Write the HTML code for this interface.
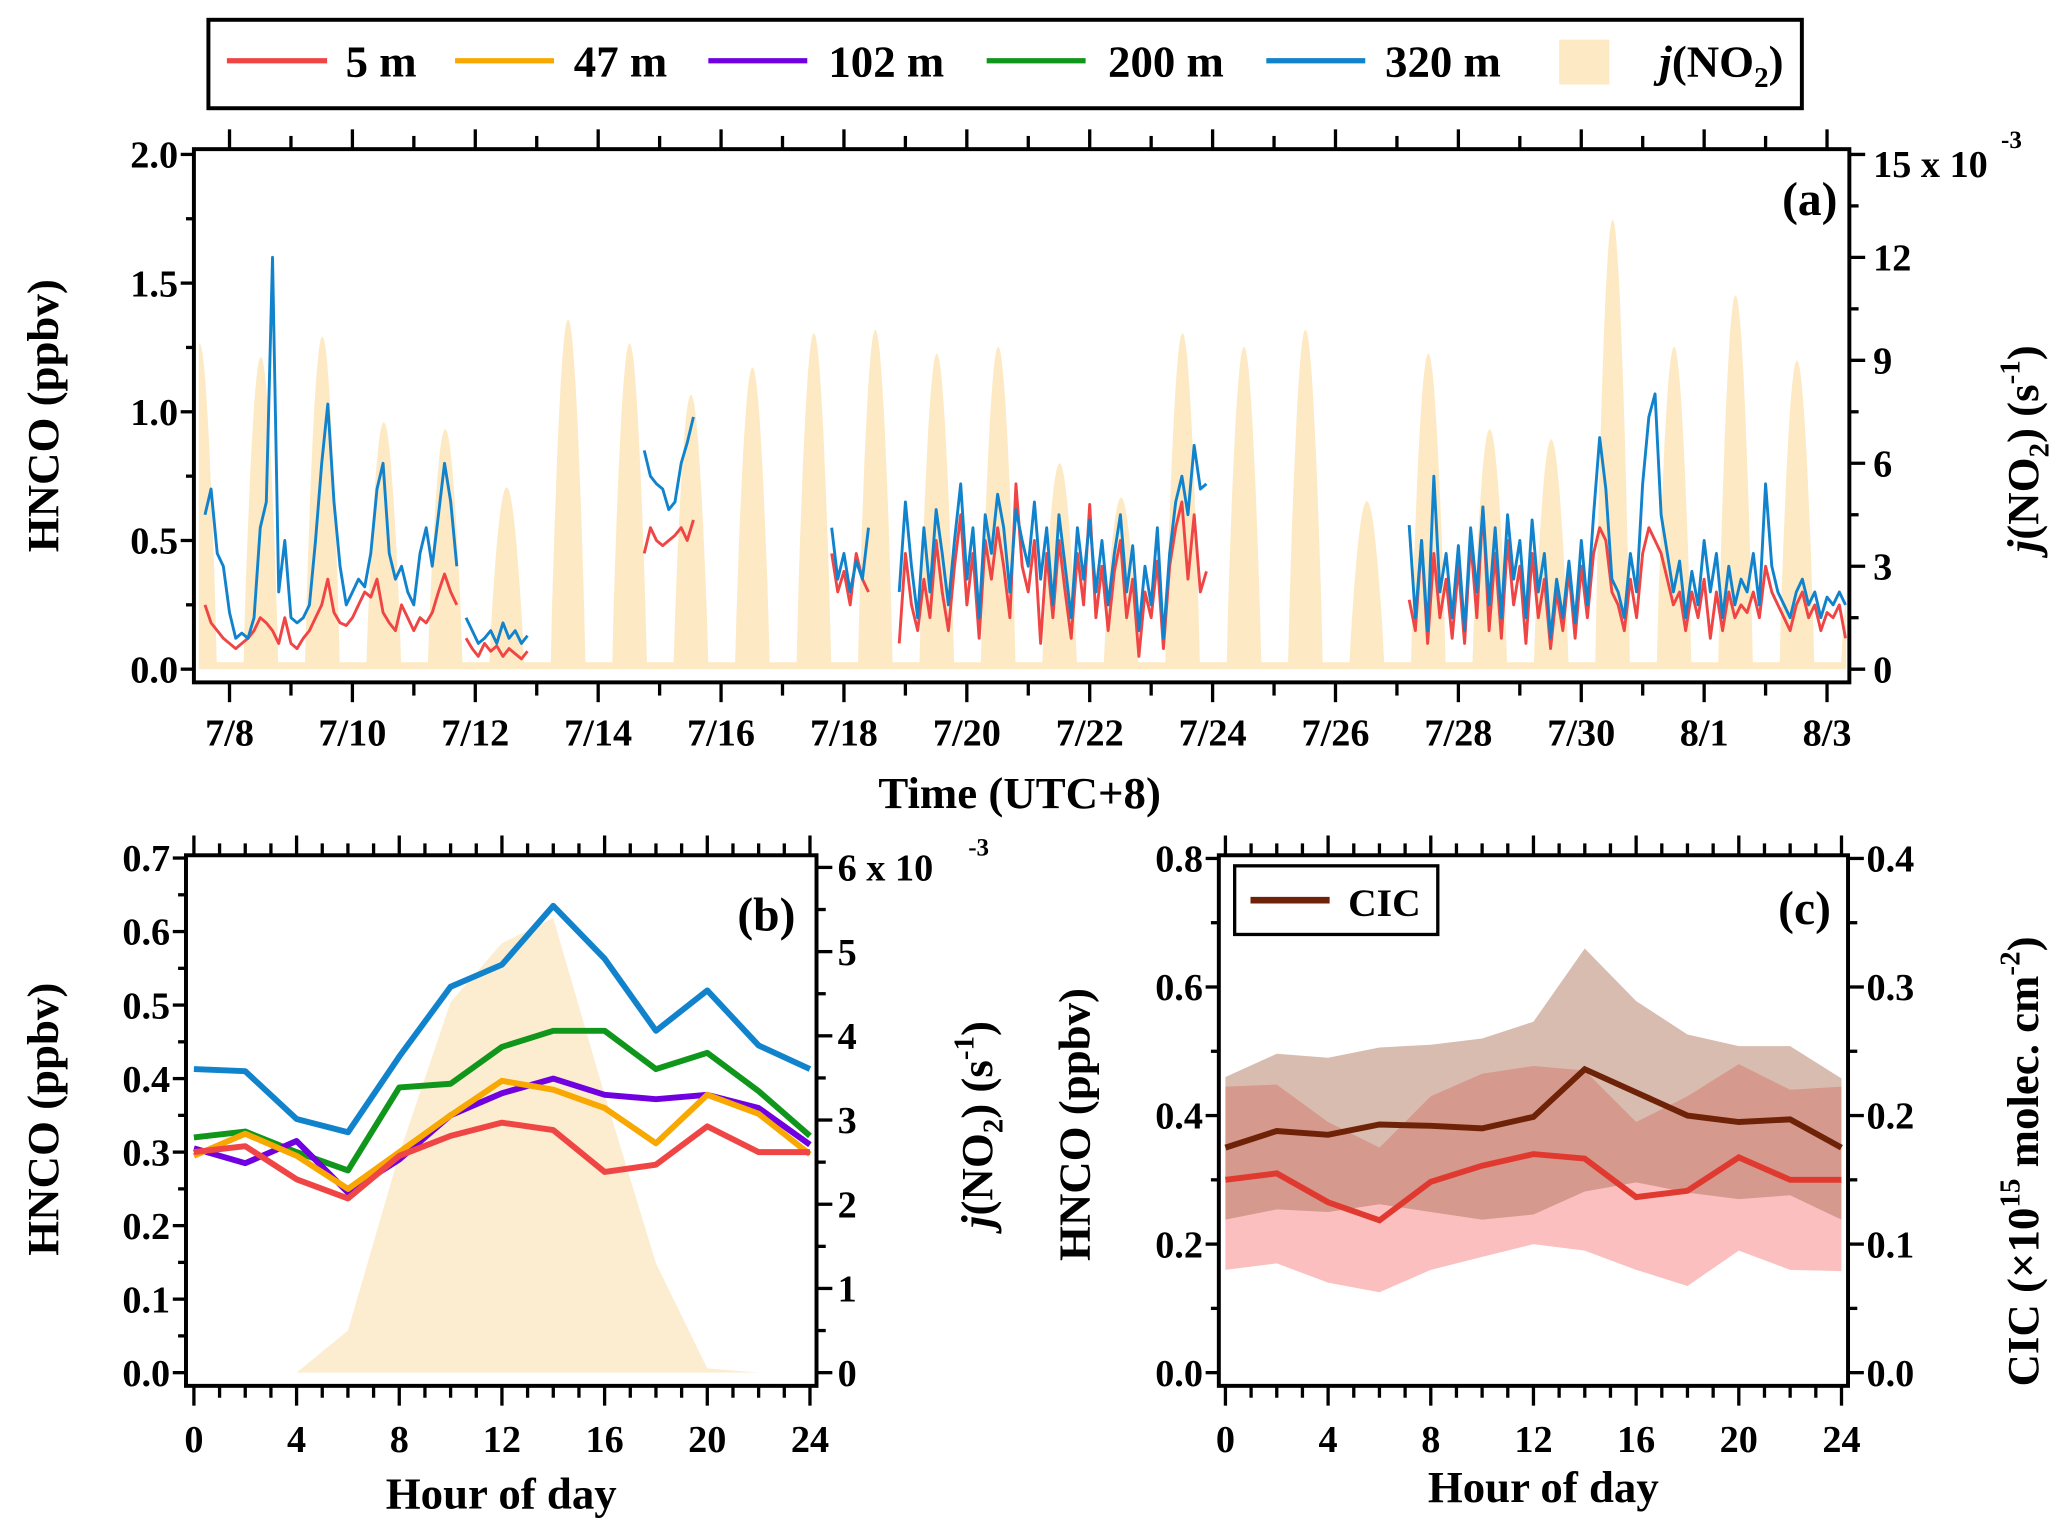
<!DOCTYPE html>
<html><head><meta charset="utf-8"><style>
html,body{margin:0;padding:0;background:#fff;}
svg{display:block;}
text{font-family:"Liberation Serif","Times New Roman",serif;font-weight:bold;fill:#000;}
</style></head><body>
<svg id="fig" width="2067" height="1535" viewBox="0 0 1567 1163" preserveAspectRatio="none" xmlns="http://www.w3.org/2000/svg" font-family="Liberation Serif, serif">
<g id="legend">
<rect x="158" y="15" width="1208" height="67" fill="#fff" stroke="#000" stroke-width="3"/>
<line x1="172" y1="46" x2="248" y2="46" stroke="#f04545" stroke-width="4"/><text x="262" y="58" font-size="34">5 m</text>
<line x1="345" y1="46" x2="420" y2="46" stroke="#f8a800" stroke-width="4"/><text x="435" y="58" font-size="34">47 m</text>
<line x1="537" y1="46" x2="612" y2="46" stroke="#7000e0" stroke-width="4"/><text x="628" y="58" font-size="34">102 m</text>
<line x1="748" y1="46" x2="823" y2="46" stroke="#10961a" stroke-width="4"/><text x="840" y="58" font-size="34">200 m</text>
<line x1="960" y1="46" x2="1035" y2="46" stroke="#1183cc" stroke-width="4"/><text x="1050" y="58" font-size="34">320 m</text>
<rect x="1182" y="30" width="38" height="34" fill="#fde9c4"/>
<text x="1258" y="58" font-size="34"><tspan font-style="italic">j</tspan>(NO<tspan font-size="22" dy="8">2</tspan><tspan dy="-8">)</tspan></text>
</g>
<g id="pa"></g>
<g id="pb"></g>
<g id="pc"></g>
</svg>
<script>
// ---------- Panel (a) data ----------
const jPeakDays = [7,8,9,10,11,12,13,14,15,16,17,18,19,20,21,22,23,24,25,26,27,28,29,30,31,32,33,34];
const jPeakVals = [9.3,8.9,9.5,7.0,6.8,5.1,10.0,9.3,7.8,8.6,9.6,9.7,9.0,9.2,5.8,4.8,9.6,9.2,9.7,4.7,9.0,6.8,6.5,12.9,9.2,10.7,8.8,4.0];
const segStarts = [7.6, 11.85, 14.75, 17.8, 18.9, 27.2];
const seg320 = [
 [0.6,0.7,0.45,0.4,0.22,0.12,0.14,0.12,0.2,0.55,0.65,1.6,0.3,0.5,0.2,0.18,0.2,0.25,0.5,0.8,1.03,0.65,0.4,0.25,0.3,0.35,0.32,0.45,0.7,0.8,0.45,0.35,0.4,0.3,0.25,0.45,0.55,0.4,0.6,0.8,0.65,0.4],
 [0.2,0.15,0.1,0.12,0.15,0.1,0.18,0.12,0.15,0.1,0.13],
 [0.85,0.75,0.72,0.7,0.62,0.65,0.8,0.88,0.98],
 [0.55,0.35,0.45,0.3,0.42,0.35,0.55],
 [0.3,0.65,0.4,0.2,0.55,0.3,0.62,0.45,0.25,0.5,0.72,0.35,0.55,0.2,0.6,0.45,0.68,0.55,0.3,0.62,0.5,0.4,0.65,0.35,0.55,0.25,0.6,0.4,0.2,0.55,0.35,0.58,0.3,0.5,0.25,0.45,0.6,0.3,0.48,0.15,0.4,0.25,0.55,0.12,0.45,0.65,0.75,0.6,0.87,0.7,0.72],
 [0.56,0.2,0.5,0.15,0.75,0.3,0.45,0.2,0.48,0.15,0.55,0.3,0.63,0.25,0.55,0.2,0.6,0.35,0.5,0.2,0.58,0.3,0.45,0.12,0.35,0.2,0.42,0.18,0.5,0.25,0.6,0.9,0.7,0.35,0.3,0.2,0.45,0.3,0.72,0.98,1.07,0.6,0.45,0.3,0.42,0.2,0.38,0.25,0.5,0.3,0.45,0.2,0.4,0.25,0.35,0.3,0.45,0.25,0.72,0.4,0.3,0.25,0.2,0.3,0.35,0.25,0.3,0.2,0.28,0.25,0.3,0.25]
];
const seg5 = [
 [0.25,0.18,0.15,0.12,0.1,0.08,0.1,0.12,0.15,0.2,0.18,0.15,0.1,0.2,0.1,0.08,0.12,0.15,0.2,0.25,0.35,0.22,0.18,0.17,0.2,0.25,0.3,0.28,0.35,0.22,0.18,0.15,0.25,0.2,0.15,0.2,0.18,0.22,0.3,0.37,0.3,0.25],
 [0.12,0.08,0.05,0.1,0.07,0.09,0.05,0.08,0.06,0.04,0.07],
 [0.45,0.55,0.5,0.48,0.5,0.52,0.55,0.5,0.58],
 [0.45,0.3,0.38,0.25,0.45,0.35,0.3],
 [0.1,0.45,0.25,0.15,0.35,0.2,0.5,0.3,0.15,0.4,0.6,0.25,0.45,0.12,0.5,0.35,0.55,0.4,0.2,0.72,0.4,0.3,0.5,0.1,0.45,0.2,0.5,0.3,0.12,0.45,0.25,0.64,0.2,0.4,0.15,0.38,0.5,0.2,0.35,0.05,0.3,0.2,0.42,0.08,0.4,0.55,0.65,0.35,0.6,0.3,0.38],
 [0.27,0.15,0.5,0.1,0.45,0.2,0.35,0.12,0.4,0.1,0.5,0.2,0.63,0.15,0.45,0.12,0.5,0.25,0.4,0.1,0.45,0.2,0.35,0.08,0.3,0.15,0.38,0.12,0.4,0.2,0.45,0.55,0.5,0.3,0.25,0.15,0.35,0.2,0.45,0.55,0.5,0.45,0.35,0.25,0.3,0.15,0.3,0.2,0.35,0.12,0.3,0.15,0.3,0.2,0.25,0.22,0.3,0.2,0.4,0.3,0.25,0.2,0.15,0.25,0.3,0.2,0.25,0.15,0.22,0.2,0.25,0.12]
];
const dayTickLabels = ["7/8","7/10","7/12","7/14","7/16","7/18","7/20","7/22","7/24","7/26","7/28","7/30","8/1","8/3"];
// ---------- Panel (b) data ----------
const hours = [0,2,4,6,8,10,12,14,16,18,20,22,24];
const b320 = [0.413,0.41,0.345,0.327,0.43,0.525,0.555,0.635,0.563,0.465,0.52,0.445,0.413];
const b200 = [0.32,0.328,0.3,0.275,0.388,0.393,0.443,0.465,0.465,0.413,0.435,0.383,0.322];
const b102 = [0.305,0.285,0.315,0.245,0.29,0.35,0.38,0.4,0.378,0.372,0.378,0.36,0.31];
const b47 = [0.295,0.325,0.295,0.25,0.3,0.35,0.397,0.385,0.36,0.312,0.378,0.352,0.297];
const b5 = [0.3,0.308,0.263,0.237,0.295,0.322,0.34,0.33,0.273,0.283,0.335,0.3,0.3];
const bJ = [0,0,0,0.5,2.6,4.4,5.1,5.4,3.3,1.3,0.05,0,0];
// ---------- Panel (c) data ----------
const cHNCO = [0.3,0.31,0.265,0.237,0.297,0.322,0.34,0.333,0.273,0.283,0.335,0.3,0.3];
const cHNCOlo = [0.16,0.17,0.14,0.125,0.16,0.18,0.2,0.19,0.16,0.135,0.19,0.16,0.158];
const cHNCOhi = [0.445,0.448,0.39,0.35,0.43,0.465,0.477,0.47,0.39,0.43,0.48,0.44,0.445];
const cCIC = [0.175,0.188,0.185,0.193,0.192,0.19,0.199,0.236,0.218,0.2,0.195,0.197,0.175];
const cCIClo = [0.119,0.127,0.125,0.131,0.125,0.119,0.123,0.141,0.148,0.14,0.135,0.138,0.119];
const cCIChi = [0.23,0.248,0.245,0.253,0.255,0.26,0.273,0.33,0.289,0.263,0.254,0.254,0.229];

const NS="http://www.w3.org/2000/svg";
function mk(parent,tag,attrs,txt){const e=document.createElementNS(NS,tag);for(const k in attrs)e.setAttribute(k,attrs[k]);if(txt!==undefined)e.textContent=txt;parent.appendChild(e);return e;}
function pts(xs,ys){return xs.map((x,i)=>x.toFixed(1)+","+ys[i].toFixed(1)).join(" ");}

// ===== Panel A =====
const pa=document.getElementById('pa');
const xA=d=>174+(d-8)*46.58, yA=v=>507-v*195, yJ=j=>507-j*26;
const AL=147,AR=1402,AT=113,AB=517;
{let xs=[],ys=[];
 jPeakDays.forEach((d,i)=>{for(let h=0;h<=24;h+=0.5){const t=d+h/24;const x=xA(t);if(x<150||x>1400)continue;let f=(h>5.5&&h<19)?Math.pow(Math.sin(Math.PI*(h-5.5)/13.5),0.85):0;xs.push(x);ys.push(yJ(0.2+jPeakVals[i]*f));}});
 const a=mk(pa,'polygon',{points:pts([xs[0],...xs,xs[xs.length-1]],[yJ(0),...ys,yJ(0)]),fill:'#fde9c4'});
 
 }
function seriesA(segs,color,name){segs.forEach((vals,s)=>{const xs=vals.map((v,i)=>xA(segStarts[s]+0.1*i)),ys=vals.map(yA);
 const p=mk(pa,'polyline',{points:pts(xs,ys),fill:'none',stroke:color,'stroke-width':2.2,'stroke-linejoin':'round'});
 
 });}
seriesA(seg5,'#f04545','hnco-5m-line');
seriesA(seg320,'#1183cc','hnco-320m-line');
mk(pa,'rect',{x:AL,y:AT,width:AR-AL,height:AB-AT,fill:'none',stroke:'#000','stroke-width':3});
for(let v=0;v<=2.001;v+=0.25){const y=yA(v),maj=Math.abs(v*2-Math.round(v*2))<1e-6;mk(pa,'line',{x1:AL,x2:AL-(maj?10:6),y1:y,y2:y,stroke:'#000','stroke-width':2.5});if(maj)mk(pa,'text',{x:AL-12,y:y+10,'font-size':29,'text-anchor':'end'},v.toFixed(1));}
for(let j=0;j<=15.01;j+=1.5){const y=yJ(j),maj=Math.round(j)%3===0&&Number.isInteger(j);mk(pa,'line',{x1:AR,x2:AR+(maj?12:7),y1:y,y2:y,stroke:'#000','stroke-width':2.5});if(maj&&j<15)mk(pa,'text',{x:AR+18,y:y+10,'font-size':29},j);}
mk(pa,'text',{x:AR+18,y:134,'font-size':29},"15 x 10");mk(pa,'text',{x:1517,y:112,'font-size':19},"-3");
for(let d=8;d<=34;d++){const x=xA(d),maj=d%2===0;mk(pa,'line',{x1:x,x2:x,y1:AB,y2:AB+(maj?15:10),stroke:'#000','stroke-width':2.5});mk(pa,'line',{x1:x,x2:x,y1:AT,y2:AT-(maj?15:10),stroke:'#000','stroke-width':2.5});}
dayTickLabels.forEach((l,i)=>{const t=mk(pa,'text',{x:xA(8+2*i),y:565,'font-size':29,'text-anchor':'middle'},l);
 
 });
mk(pa,'text',{x:773,y:612,'font-size':34,'text-anchor':'middle',},"Time (UTC+8)");
mk(pa,'text',{x:0,y:0,'font-size':34,'text-anchor':'middle',transform:'translate(44,315) rotate(-90)',},"HNCO (ppbv)");
mk(pa,'text',{x:0,y:0,'font-size':34,'text-anchor':'middle',transform:'translate(1545,340) rotate(-90)',}).innerHTML='<tspan font-style="italic">j</tspan>(NO<tspan font-size="22" dy="8">2</tspan><tspan dy="-8">) (s</tspan><tspan font-size="22" dy="-14">-1</tspan><tspan dy="14">)</tspan>';
mk(pa,'text',{x:1393,y:163,'font-size':36,'text-anchor':'end'},"(a)");

// ===== Panel B =====
const pb=document.getElementById('pb');
const xB=h=>147+h*19.46, yB=v=>1040-v*557, yBj=j=>1040-j*63.8;
const BL=141,BR=619,BT=648,BB=1050;
{const xs=hours.map(xB),ys=bJ.map(yBj);const a=mk(pb,'polygon',{points:pts([xs[0],...xs,xs[12]],[yBj(0),...ys,yBj(0)]),fill:'#fdedd0'});
 
 }
[[b320,'#1183cc','hnco-320m'],[b200,'#10961a','hnco-200m'],[b102,'#7000e0','hnco-102m'],[b47,'#f8a800','hnco-47m'],[b5,'#f04545','hnco-5m']].forEach(([arr,c,n])=>{
 const p=mk(pb,'polyline',{points:pts(hours.map(xB),arr.map(yB)),fill:'none',stroke:c,'stroke-width':4.5,'stroke-linejoin':'round'});
 
 });
mk(pb,'rect',{x:BL,y:BT,width:BR-BL,height:BB-BT,fill:'none',stroke:'#000','stroke-width':3});
for(let i=0;i<=14;i++){const v=i*0.05,y=yB(v),maj=i%2===0;mk(pb,'line',{x1:BL,x2:BL-(maj?10:6),y1:y,y2:y,stroke:'#000','stroke-width':2.5});if(maj)mk(pb,'text',{x:BL-12,y:y+10,'font-size':29,'text-anchor':'end'},v.toFixed(1));}
for(let i=0;i<=12;i++){const j=i*0.5,y=yBj(j),maj=i%2===0;mk(pb,'line',{x1:BR,x2:BR+(maj?12:7),y1:y,y2:y,stroke:'#000','stroke-width':2.5});if(maj&&j<6)mk(pb,'text',{x:BR+16,y:y+10,'font-size':29},j);}
mk(pb,'text',{x:BR+16,y:yBj(6)+10,'font-size':29},"6 x 10");mk(pb,'text',{x:734,y:648,'font-size':19},"-3");
for(let h=0;h<=24;h++){const x=xB(h),maj=h%4===0;mk(pb,'line',{x1:x,x2:x,y1:BB,y2:BB+(maj?15:9),stroke:'#000','stroke-width':2.5});mk(pb,'line',{x1:x,x2:x,y1:BT,y2:BT-(maj?15:9),stroke:'#000','stroke-width':2.5});if(maj)mk(pb,'text',{x:x,y:1100,'font-size':29,'text-anchor':'middle'},h);}
mk(pb,'text',{x:380,y:1143,'font-size':34,'text-anchor':'middle'},"Hour of day");
mk(pb,'text',{x:0,y:0,'font-size':34,'text-anchor':'middle',transform:'translate(44,848) rotate(-90)'},"HNCO (ppbv)");
mk(pb,'text',{x:0,y:0,'font-size':34,'text-anchor':'middle',transform:'translate(752,852) rotate(-90)'}).innerHTML='<tspan font-style="italic">j</tspan>(NO<tspan font-size="22" dy="8">2</tspan><tspan dy="-8">) (s</tspan><tspan font-size="22" dy="-14">-1</tspan><tspan dy="14">)</tspan>';
mk(pb,'text',{x:603,y:705,'font-size':36,'text-anchor':'end'},"(b)");

// ===== Panel C =====
const pc=document.getElementById('pc');
const xC=h=>929+h*19.46, yC=v=>1040-v*487, yCIC=c=>1040-c*974;
const CL=924,CR=1401,CT=648,CB=1050;
function band(lo,hi,ym,fill,op,name){const xs=hours.map(xC);const b=mk(pc,'polygon',{points:pts([...xs,...xs.slice().reverse()],[...hi.map(ym),...lo.map(ym).reverse()]),fill:fill,'fill-opacity':op});
 
 }
band(cHNCOlo,cHNCOhi,yC,'#f88a8a',0.55,'hnco-range-band');
band(cCIClo,cCIChi,yCIC,'#a86a50',0.45,'cic-range-band');
{const p=mk(pc,'polyline',{points:pts(hours.map(xC),cHNCO.map(yC)),fill:'none',stroke:'#e03a30','stroke-width':4.5});
 
 
 const q=mk(pc,'polyline',{points:pts(hours.map(xC),cCIC.map(yCIC)),fill:'none',stroke:'#6e2308','stroke-width':4.5});
 
 }
mk(pc,'rect',{x:CL,y:CT,width:CR-CL,height:CB-CT,fill:'none',stroke:'#000','stroke-width':3});
for(let i=0;i<=8;i++){const v=i*0.1,y=yC(v),maj=i%2===0;mk(pc,'line',{x1:CL,x2:CL-(maj?10:6),y1:y,y2:y,stroke:'#000','stroke-width':2.5});if(maj)mk(pc,'text',{x:CL-12,y:y+10,'font-size':29,'text-anchor':'end'},v.toFixed(1));}
for(let i=0;i<=8;i++){const c=i*0.05,y=yCIC(c),maj=i%2===0;mk(pc,'line',{x1:CR,x2:CR+(maj?12:7),y1:y,y2:y,stroke:'#000','stroke-width':2.5});if(maj)mk(pc,'text',{x:CR+14,y:y+10,'font-size':29},c.toFixed(1));}
for(let h=0;h<=24;h++){const x=xC(h),maj=h%4===0;mk(pc,'line',{x1:x,x2:x,y1:CB,y2:CB+(maj?15:9),stroke:'#000','stroke-width':2.5});mk(pc,'line',{x1:x,x2:x,y1:CT,y2:CT-(maj?15:9),stroke:'#000','stroke-width':2.5});if(maj)mk(pc,'text',{x:x,y:1100,'font-size':29,'text-anchor':'middle'},h);}
mk(pc,'text',{x:1170,y:1138,'font-size':34,'text-anchor':'middle'},"Hour of day");
mk(pc,'text',{x:0,y:0,'font-size':34,'text-anchor':'middle',transform:'translate(826,852) rotate(-90)'},"HNCO (ppbv)");
mk(pc,'text',{x:0,y:0,'font-size':34,'text-anchor':'middle',transform:'translate(1545,880) rotate(-90)'}).innerHTML='CIC (×10<tspan font-size="22" dy="-14">15</tspan><tspan dy="14"> molec. cm</tspan><tspan font-size="22" dy="-14">-2</tspan><tspan dy="14">)</tspan>';
mk(pc,'rect',{x:936,y:656,width:154,height:52,fill:'#fff',stroke:'#000','stroke-width':2.5});
mk(pc,'line',{x1:948,x2:1008,y1:682,y2:682,stroke:'#6e2308','stroke-width':5});
mk(pc,'text',{x:1022,y:694,'font-size':30},"CIC");
mk(pc,'text',{x:1388,y:700,'font-size':36,'text-anchor':'end'},"(c)");
</script>
</body></html>
